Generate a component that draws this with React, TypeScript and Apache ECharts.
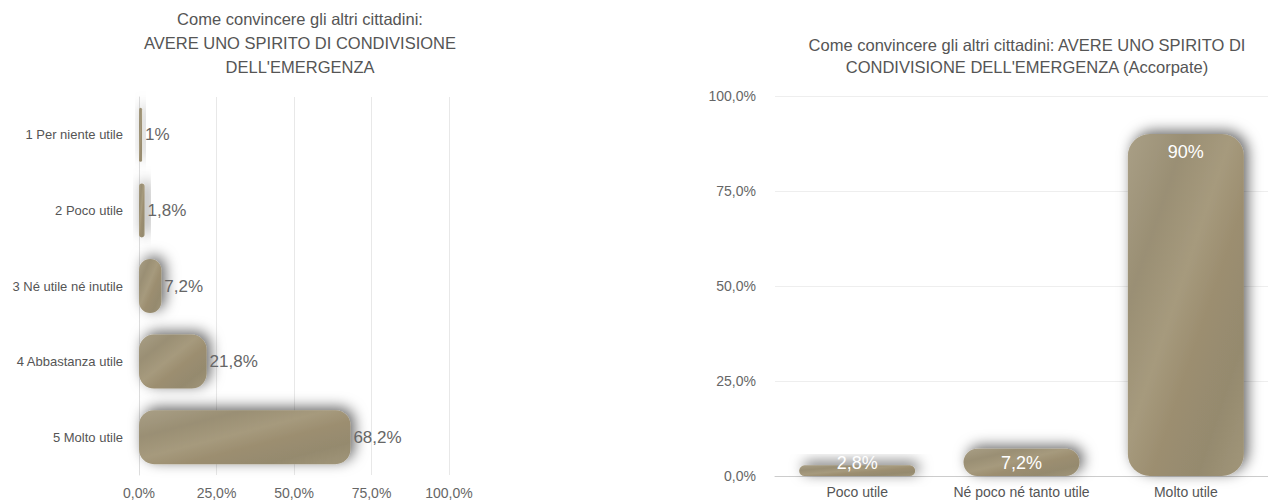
import React, { useEffect, useRef } from "react";
import * as echarts from "echarts";

const leftCategories = [
  "1 Per niente utile",
  "2 Poco utile",
  "3 Né utile né inutile",
  "4 Abbastanza utile",
  "5 Molto utile",
];
const leftValues = [1, 1.8, 7.2, 21.8, 68.2];

const rightCategories = ["Poco utile", "Né poco né tanto utile", "Molto utile"];
const rightValues = [2.8, 7.2, 90];

const leftTitle =
  "Come convincere gli altri cittadini:\nAVERE UNO SPIRITO DI CONDIVISIONE\nDELL'EMERGENZA";
const rightTitle =
  "Come convincere gli altri cittadini: AVERE UNO SPIRITO DI\nCONDIVISIONE DELL'EMERGENZA (Accorpate)";

const FONT = "'Liberation Sans', Arial, sans-serif";

const fmtAxis = (v: number) => v.toFixed(1).replace(".", ",") + "%";
const fmtVal = (v: number) =>
  (Number.isInteger(v) ? String(v) : String(v).replace(".", ",")) + "%";

const stone = () =>
  new echarts.graphic.LinearGradient(0, 0, 1, 1, [
    { offset: 0, color: "#a99f86" },
    { offset: 0.25, color: "#9a8f74" },
    { offset: 0.45, color: "#a69a7d" },
    { offset: 0.6, color: "#9c8e70" },
    { offset: 0.8, color: "#958a6e" },
    { offset: 1, color: "#a1967a" },
  ]);

export default function App() {
  const ref = useRef<HTMLDivElement>(null);
  useEffect(() => {
    if (!ref.current) return;
    const chart = echarts.init(ref.current, undefined, { renderer: "svg" });
    const barStyleBase = {
      shadowColor: "rgba(0,0,0,0.6)",
      shadowBlur: 14,
      shadowOffsetX: 4,
      shadowOffsetY: -3,
    };
    chart.setOption({
      animation: false,
      backgroundColor: "#ffffff",
      textStyle: { fontFamily: FONT },
      title: [
        {
          text: leftTitle,
          left: 295,
          top: 2,
          textAlign: "center",
          textStyle: {
            fontFamily: FONT,
            fontSize: 16.5,
            fontWeight: "normal",
            color: "#555555",
            lineHeight: 24,
          },
        },
        {
          text: rightTitle,
          left: 1022,
          top: 29,
          textAlign: "center",
          textStyle: {
            fontFamily: FONT,
            fontSize: 16.5,
            fontWeight: "normal",
            color: "#555555",
            lineHeight: 22,
          },
        },
      ],
      grid: [
        { left: 139, top: 97, width: 310, height: 378 },
        { left: 775, top: 96, width: 495, height: 380 },
      ],
      xAxis: [
        {
          type: "value",
          gridIndex: 0,
          min: 0,
          max: 100,
          interval: 25,
          axisLine: { show: false },
          axisTick: { show: false },
          splitLine: { lineStyle: { color: "#e8e8e8", width: 1 } },
          axisLabel: {
            formatter: fmtAxis,
            color: "#666666",
            fontSize: 14,
            margin: 11,
            fontFamily: FONT,
          },
        },
        {
          type: "category",
          gridIndex: 1,
          data: rightCategories,
          axisLine: { lineStyle: { color: "#cccccc" } },
          axisTick: { show: false },
          axisLabel: {
            interval: 0,
            hideOverlap: false,
            color: "#555555",
            fontSize: 14,
            margin: 9,
            fontFamily: FONT,
          },
        },
      ],
      yAxis: [
        {
          type: "category",
          gridIndex: 0,
          data: leftCategories,
          inverse: true,
          axisLine: { show: true, lineStyle: { color: "#dddddd" } },
          axisTick: { show: false },
          axisLabel: {
            interval: 0,
            color: "#555555",
            fontSize: 13,
            margin: 16,
            fontFamily: FONT,
          },
        },
        {
          type: "value",
          gridIndex: 1,
          min: 0,
          max: 100,
          interval: 25,
          axisLine: { show: false },
          axisTick: { show: false },
          splitLine: { lineStyle: { color: "#eeeeee" } },
          axisLabel: {
            formatter: fmtAxis,
            color: "#666666",
            fontSize: 14,
            margin: 19,
            fontFamily: FONT,
          },
        },
      ],
      series: [
        {
          type: "bar",
          xAxisIndex: 0,
          yAxisIndex: 0,
          data: leftValues,
          barWidth: 54,
          itemStyle: {
            ...barStyleBase,
            color: stone(),
            borderRadius: 15,
          },
          label: {
            show: true,
            position: "right",
            distance: 3,
            formatter: (p: any) => fmtVal(p.value),
            color: "#666666",
            fontSize: 17,
            fontFamily: FONT,
          },
        },
        {
          type: "bar",
          xAxisIndex: 1,
          yAxisIndex: 1,
          barWidth: 116,
          data: rightValues.map((v) => ({
            value: v,
            label:
              v < 5
                ? { position: "insideTop", offset: [0, -16] }
                : { position: "insideTop", distance: v > 50 ? 9 : 5 },
          })),
          itemStyle: {
            ...barStyleBase,
            color: stone(),
            borderRadius: 22,
          },
          label: {
            show: true,
            formatter: (p: any) => fmtVal(p.value),
            color: "#ffffff",
            fontSize: 18,
            fontFamily: FONT,
          },
        },
      ],
    });
    return () => chart.dispose();
  }, []);
  return (
    <div
      ref={ref}
      style={{ position: "absolute", left: 0, top: 0, width: 1268, height: 502 }}
    />
  );
}
